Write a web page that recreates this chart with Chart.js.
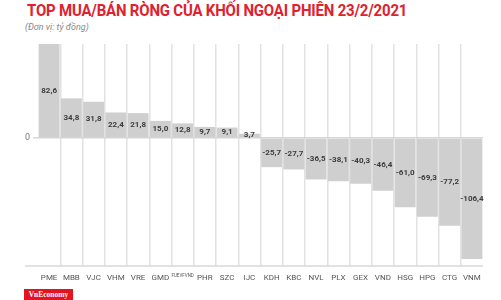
<!DOCTYPE html>
<html>
<head>
<meta charset="utf-8">
<script src="https://cdn.jsdelivr.net/npm/chart.js@4/dist/chart.umd.min.js"></script>
<style>
  html, body { margin: 0; padding: 0; background: #fff; }
  #wrap { position: relative; width: 501px; height: 300px; overflow: hidden; }
  #title {
    position: absolute; left: 27px; top: 0px; white-space: nowrap;
    font-family: Roboto, "DejaVu Sans", sans-serif; font-weight: 700; font-size: 17px;
    color: #e0212e; transform-origin: left top; letter-spacing: -0.2px;
  }
  #sub {
    position: absolute; left: 25px; top: 22px; white-space: nowrap;
    font-family: Roboto, sans-serif; font-style: italic; font-size: 9px; color: #888;
  }
  #logo {
    position: absolute; left: 24px; top: 289px; width: 49px; height: 14px;
    background: #e3141f; color: #fff; font-family: "Liberation Serif", "DejaVu Serif", serif;
    font-weight: 700; font-size: 7.5px; line-height: 11px; text-align: center;
  }
  #chart { position: absolute; left: 0; top: 0; width: 501px; height: 300px; }
</style>
</head>
<body>
<div id="wrap">
  <div id="title">TOP MUA/BÁN RÒNG CỦA KHỐI NGOẠI PHIÊN 23/2/2021</div>
  <div id="sub">(Đơn vị: tỷ đồng)</div>
  <div id="chart"><canvas id="c"></canvas></div>
  <div id="logo">VnEconomy</div>
</div>
<script>
// ===== data =====
const categories = ['PME', 'MBB', 'VJC', 'VHM', 'VRE', 'GMD', 'FUEVFVND', 'PHR', 'SZC', 'IJC',
  'KDH', 'KBC', 'NVL', 'PLX', 'GEX', 'VND', 'HSG', 'HPG', 'CTG', 'VNM'];
const netValues = [82.6, 34.8, 31.8, 22.4, 21.8, 15.0, 12.8, 9.7, 9.1, 3.7,
  -25.7, -27.7, -36.5, -38.1, -40.3, -46.4, -61.0, -69.3, -77.2, -106.4];
const yTicks = [0];

// squeeze title to the condensed width of the original
const titleEl = document.getElementById('title');
titleEl.style.transform = 'scaleX(' + (380 / titleEl.scrollWidth) + ')';

const fmt = v => v.toFixed(1).replace('.', ',');

// value labels centered inside each bar
const barLabels = {
  id: 'barLabels',
  afterDatasetsDraw(chart) {
    const ctx = chart.ctx;
    const meta = chart.getDatasetMeta(0);
    ctx.save();
    ctx.font = 'bold 8px Roboto, sans-serif';
    ctx.fillStyle = '#3c3c3c';
    ctx.textAlign = 'center';
    ctx.textBaseline = 'middle';
    meta.data.forEach((bar, i) => {
      const p = bar.getProps(['x', 'y', 'base'], true);
      ctx.fillText(fmt(netValues[i]), p.x, (p.y + p.base) / 2);
    });
    ctx.restore();
  }
};

// bottom base line running a little past the left of the plot
const baseLine = {
  id: 'baseLine',
  afterDraw(chart) {
    const { ctx, chartArea } = chart;
    ctx.save();
    ctx.strokeStyle = '#d9d9d9';
    ctx.lineWidth = 1.5;
    ctx.beginPath();
    ctx.moveTo(25, chartArea.bottom);
    ctx.lineTo(chartArea.right, chartArea.bottom);
    ctx.stroke();
    ctx.restore();
  }
};

new Chart(document.getElementById('c').getContext('2d'), {
  type: 'bar',
  data: {
    labels: categories,
    datasets: [{
      data: netValues,
      backgroundColor: '#cfcfcf',
      borderWidth: 0,
      barPercentage: 1,
      categoryPercentage: 0.94
    }]
  },
  options: {
    responsive: true,
    maintainAspectRatio: false,
    animation: false,
    layout: { padding: { top: 44, left: 0, right: 18, bottom: 12 } },
    plugins: { legend: { display: false }, tooltip: { enabled: false } },
    scales: {
      x: {
        offset: true,
        grid: {
          offset: true,
          drawTicks: false,
          lineWidth: 1.5,
          color: (c) => (c.index > 0 ? '#e2e2e2' : 'rgba(0,0,0,0)')
        },
        border: { display: false },
        ticks: {
          autoSkip: false,
          maxRotation: 0,
          padding: 7,
          color: '#555',
          font: (c) => (c.index === 6
            ? { family: 'Roboto', size: 4.5 }
            : { family: 'Roboto', size: 8 })
        },
        afterFit: (scale) => { scale.height = 22; }
      },
      y: {
        min: -112.6,
        max: 82.6,
        afterBuildTicks: (scale) => { scale.ticks = yTicks.map(v => ({ value: v })); },
        grid: { color: '#d6d6d6', lineWidth: 1.5, tickLength: 5 },
        border: { display: false },
        ticks: {
          padding: 3,
          color: '#777',
          font: { family: 'Roboto', size: 9 },
          callback: (v) => String(v)
        },
        afterFit: (scale) => { scale.width = 38; }
      }
    }
  },
  plugins: [barLabels, baseLine]
});
</script>
</body>
</html>
